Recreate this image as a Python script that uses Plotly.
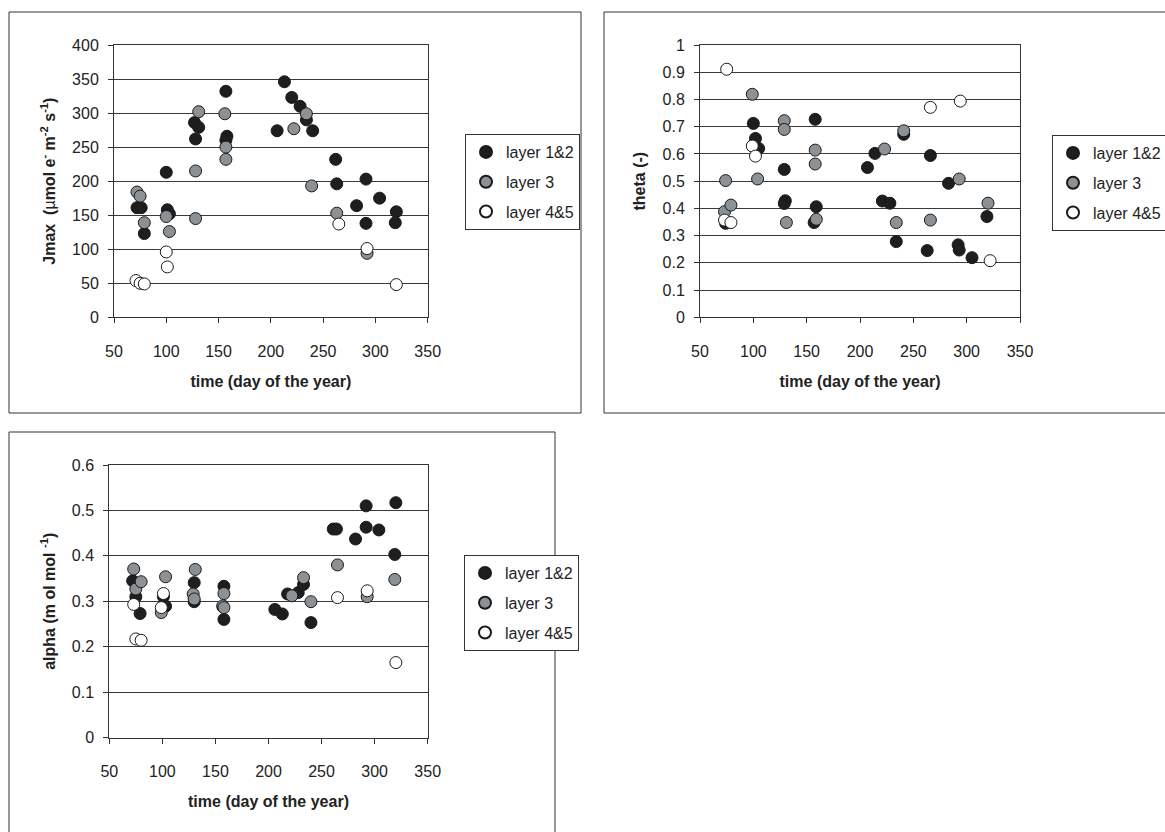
import plotly.graph_objects as go

W, H = 1165, 832

# ---- Jmax (µmol e- m-2 s-1) ----
jmax_l12_day = [72, 76, 79, 100, 101, 103, 127, 131, 128, 157, 158, 157, 206, 213, 220, 228, 234, 240, 262, 263, 282, 291, 291, 304, 320, 319]
jmax_l12_val = [161, 161, 123, 213, 158, 152, 286, 279, 262, 332, 266, 260, 274, 346, 323, 310, 290, 274, 232, 196, 164, 203, 138, 175, 155, 139]
jmax_l3_day = [72, 75, 79, 100, 103, 128, 128, 131, 156, 157, 157, 222, 234, 239, 263, 292]
jmax_l3_val = [184, 178, 139, 148, 126, 215, 145, 302, 299, 250, 232, 277, 299, 193, 153, 94]
jmax_l45_day = [71, 75, 79, 100, 101, 265, 292, 320]
jmax_l45_val = [54, 50, 49, 96, 74, 137, 101, 48]

# ---- theta (-) ----
theta_l12_day = [74, 100, 102, 105, 129, 130, 129, 158, 159, 157, 207, 214, 221, 228, 241, 234, 266, 263, 283, 292, 293, 305, 319]
theta_l12_val = [0.345, 0.712, 0.657, 0.62, 0.543, 0.428, 0.418, 0.727, 0.406, 0.348, 0.55, 0.602, 0.427, 0.419, 0.672, 0.278, 0.594, 0.245, 0.492, 0.266, 0.247, 0.219, 0.37]
theta_l3_day = [74, 73, 79, 99, 104, 129, 129, 131, 158, 158, 159, 223, 234, 241, 266, 293, 320]
theta_l3_val = [0.502, 0.388, 0.412, 0.819, 0.508, 0.722, 0.69, 0.348, 0.614, 0.563, 0.36, 0.618, 0.348, 0.685, 0.357, 0.508, 0.419]
theta_l45_day = [75, 73, 79, 99, 102, 266, 294, 322]
theta_l45_val = [0.911, 0.357, 0.348, 0.629, 0.592, 0.771, 0.794, 0.208]

# ---- alpha (mol mol-1) ----
alpha_l12_day = [72, 75, 79, 101, 103, 130, 130, 158, 157, 158, 206, 213, 218, 228, 233, 240, 261, 264, 282, 292, 292, 304, 320, 319]
alpha_l12_val = [0.345, 0.31, 0.273, 0.31, 0.289, 0.341, 0.299, 0.333, 0.288, 0.26, 0.282, 0.272, 0.316, 0.319, 0.337, 0.253, 0.459, 0.459, 0.437, 0.51, 0.463, 0.457, 0.517, 0.403]
alpha_l3_day = [73, 75, 80, 99, 103, 129, 131, 130, 157, 158, 158, 222, 233, 240, 265, 293, 319]
alpha_l3_val = [0.371, 0.327, 0.343, 0.275, 0.354, 0.316, 0.37, 0.305, 0.29, 0.317, 0.286, 0.312, 0.352, 0.299, 0.38, 0.31, 0.348]
alpha_l45_day = [73, 75, 80, 101, 99, 265, 293, 320]
alpha_l45_val = [0.293, 0.217, 0.214, 0.317, 0.286, 0.308, 0.323, 0.165]

layer_names = ["layer 1&2", "layer 3", "layer 4&5"]
layer_fill = ["#1e1e1e", "#8c9196", "#ffffff"]

FONT = "Liberation Sans, Arial, sans-serif"
INK = "#222222"


def px_x(p):
    return p / W


def px_y(p):
    return 1 - p / H


panels = [
    # (xaxis id, yaxis id, legend id, series, x-domain px, y-domain px, y range, y dtick, y title)
    ("x", "y", "legend",
     [(jmax_l12_day, jmax_l12_val), (jmax_l3_day, jmax_l3_val), (jmax_l45_day, jmax_l45_val)],
     (114, 427.7), (45, 317.3), (0, 400), 50,
     "Jmax  (<span style='font-weight:normal'>µ</span>mol e<sup>-</sup> m<sup>-2</sup> s<sup>-1</sup>)"),
    ("x2", "y2", "legend2",
     [(theta_l12_day, theta_l12_val), (theta_l3_day, theta_l3_val), (theta_l45_day, theta_l45_val)],
     (700, 1020), (45, 317.3), (0, 1), 0.1, "theta (-)"),
    ("x3", "y3", "legend3",
     [(alpha_l12_day, alpha_l12_val), (alpha_l3_day, alpha_l3_val), (alpha_l45_day, alpha_l45_val)],
     (109.3, 427.7), (465, 737.5), (0, 0.6), 0.1, "alpha (m ol mol <sup>-1</sup>)"),
]

legend_pos = {"legend": (465, 134), "legend2": (1052, 135), "legend3": (464, 555)}

fig = go.Figure()
layout = {}

for pi, (xa, ya, lg, series, xdom, ydom, yrng, ydt, ytitle) in enumerate(panels):
    for li, (days, vals) in enumerate(series):
        fig.add_trace(go.Scatter(
            x=days, y=vals, mode="markers", name=layer_names[li],
            xaxis=xa, yaxis=ya, legend=lg, legendgroup=f"{lg}-{li}",
            marker=dict(symbol="circle", size=12, color=layer_fill[li],
                        line=dict(color="#1a1a1a", width=1)),
            cliponaxis=False,
        ))
    xkey = "xaxis" if xa == "x" else "xaxis" + xa[1:]
    ykey = "yaxis" if ya == "y" else "yaxis" + ya[1:]
    layout[xkey] = dict(
        domain=[px_x(xdom[0]), px_x(xdom[1])], anchor=ya,
        range=[50, 350], dtick=50, tick0=50,
        showgrid=False, zeroline=False,
        showline=True, linecolor="#333333", linewidth=1, mirror=True,
        ticks="outside", ticklen=5, tickcolor="#333333", ticklabelstandoff=14,
        tickfont=dict(family=FONT, size=16, color=INK),
        title=dict(text="<b>time (day of the year)</b>", standoff=17,
                   font=dict(family=FONT, size=16, color=INK)),
    )
    layout[ykey] = dict(
        domain=[px_y(ydom[1]), px_y(ydom[0])], anchor=xa,
        range=list(yrng), dtick=ydt, tick0=0,
        showgrid=True, gridcolor="#3a3a3a", gridwidth=1, zeroline=False,
        showline=True, linecolor="#333333", linewidth=1, mirror=True,
        ticks="outside", ticklen=5, tickcolor="#333333", ticklabelstandoff=6,
        tickfont=dict(family=FONT, size=16, color=INK),
        title=dict(text=f"<b>{ytitle}</b>", standoff=12,
                   font=dict(family=FONT, size=16, color=INK)),
    )
    lx, ly = legend_pos[lg]
    layout[lg] = dict(
        x=px_x(lx), y=px_y(ly), xanchor="left", yanchor="top",
        bgcolor="#ffffff", bordercolor="#333333", borderwidth=1,
        font=dict(family=FONT, size=16, color=INK),
        tracegroupgap=6, itemsizing="constant",
    )

# outer frames around each chart
frames = [(9, 12, 581, 413), (604, 12, 1175, 413), (9, 432, 555, 845)]
shapes = [dict(type="rect", xref="paper", yref="paper",
               x0=px_x(a), x1=px_x(c), y0=px_y(d), y1=px_y(b),
               line=dict(color="#333333", width=1), fillcolor="rgba(0,0,0,0)",
               layer="below")
          for a, b, c, d in frames]

fig.update_layout(
    width=W, height=H,
    margin=dict(l=0, r=0, t=0, b=0, autoexpand=False),
    paper_bgcolor="#ffffff", plot_bgcolor="#ffffff",
    showlegend=True, shapes=shapes,
    font=dict(family=FONT, color=INK),
    **layout,
)

fig.write_html("out.html")
